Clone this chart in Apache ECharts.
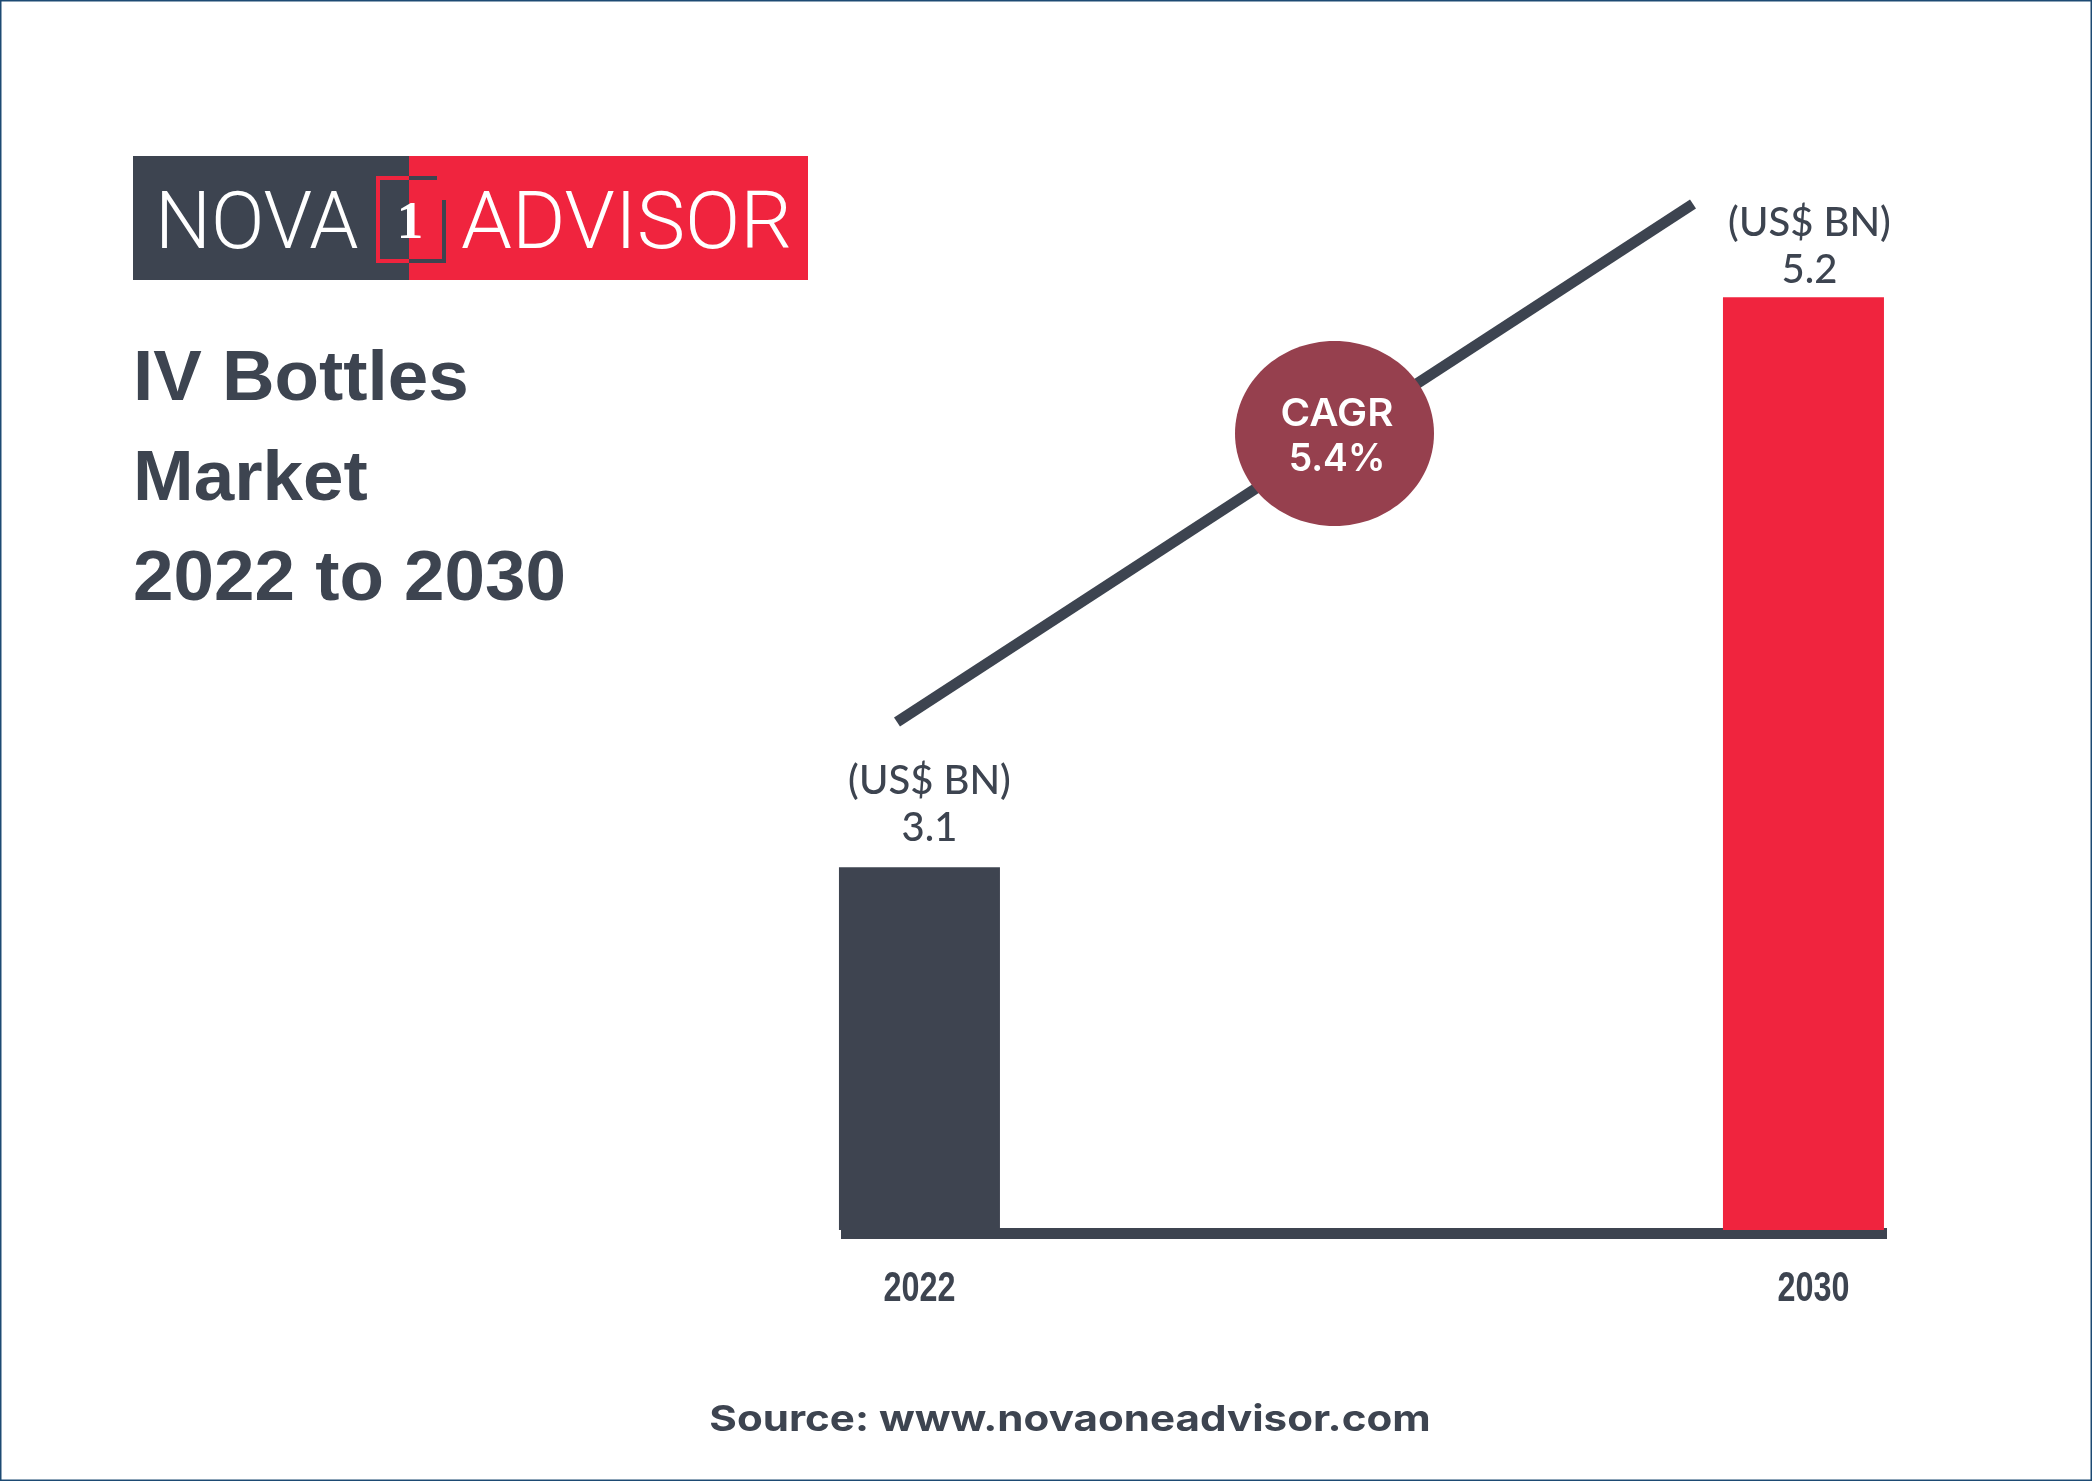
<!DOCTYPE html>
<html>
<head>
<meta charset="utf-8">
<style>html,body{margin:0;padding:0;background:#fff}#c{width:2092px;height:1481px}</style>
<script src="https://cdn.jsdelivr.net/npm/echarts@6/dist/echarts.min.js"></script>
</head>
<body>
<div id="c"></div>
<script>
const years = [2022, 2030];
const values = [3.1, 5.2];
const unitLabel = '(US$ BN)';
const barColors = ['#3e4450', '#f0243e'];
const cagrLines = ['CAGR', '5.4%'];
const titleLines = ['IV Bottles', 'Market', '2022 to 2030'];
const sourceText = 'Source: www.novaoneadvisor.com';

const DARK = '#3d4450', RED = '#f0243e', WINE = '#96404e', BORDER = '#1d4a73';
const chart = echarts.init(document.getElementById('c'), null, {renderer: 'canvas', width: 2092, height: 1481});

const labelOffsets = [[10, 0], [6, 12]];
const mid = (text, font, x, y, scaleX, fill, align) => ({
  type: 'text', z: 6, x, y, scaleX: scaleX || 1,
  style: {text, font, fill: fill || '#fff', align: align || 'center', verticalAlign: 'middle'}
});
const option = {
  backgroundColor: '#ffffff',
  animation: false,
  title: {
    text: titleLines.join('\n'),
    left: 133, top: 331, padding: 0,
    textStyle: {fontFamily: 'Liberation Sans', fontWeight: 'bold', fontSize: 70, lineHeight: 100, color: DARK}
  },
  grid: {left: 841, right: 2092 - 1887, top: 200, bottom: 251, containLabel: false},
  xAxis: {
    type: 'value', min: 2021.29, max: 2030.756, offset: 3.5,
    splitLine: {show: false}, axisTick: {show: false},
    axisLine: {show: true, onZero: false, lineStyle: {color: DARK, width: 11, cap: 'butt'}},
    axisLabel: {
      customValues: [years[0], years[1] + 0.09],
      formatter: v => String(Math.floor(v)),
      margin: 35, hideOverlap: false, showMinLabel: true, showMaxLabel: true,
      fontFamily: 'Liberation Sans', fontWeight: 'bold', fontSize: 42, color: DARK
    }
  },
  yAxis: {type: 'value', min: 1.763, max: 5.558, show: false},
  series: [{
    type: 'bar',
    barWidth: 161,
    data: years.map((y, i) => ({
      value: [y, values[i]],
      itemStyle: {color: barColors[i]},
      label: {offset: labelOffsets[i]}
    })),
    label: {
      show: true, position: 'top', distance: 16,
      formatter: p => unitLabel + '\n' + p.value[1].toFixed(1),
      fontFamily: 'Lato', fontWeight: 500, fontSize: 40, lineHeight: 47, color: DARK, align: 'center'
    }
  }],
  graphic: [
    {type: 'rect', z: 100, shape: {x: 0.5, y: 0.5, width: 2091, height: 1480}, style: {fill: 'none', stroke: BORDER, lineWidth: 2}},
    {type: 'rect', shape: {x: 133, y: 156, width: 276, height: 124}, style: {fill: DARK}},
    {type: 'rect', shape: {x: 409, y: 156, width: 399, height: 124}, style: {fill: RED}},
    {type: 'polyline', z: 5, shape: {points: [[409, 178], [378, 178], [378, 261], [409, 261]]}, style: {fill: 'none', stroke: RED, lineWidth: 4}},
    {type: 'polyline', z: 5, shape: {points: [[409, 178], [437, 178]]}, style: {fill: 'none', stroke: DARK, lineWidth: 4}},
    {type: 'polyline', z: 5, shape: {points: [[444, 200], [444, 261], [409, 261]]}, style: {fill: 'none', stroke: DARK, lineWidth: 4}},
    mid('NOVA', '300 80px Roboto', 155, 228, 0.985, '#fff', 'left'),
    mid('ADVISOR', '300 80px Roboto', 461, 228, 1.02, '#fff', 'left'),
    mid('1', 'bold 53px "Liberation Serif"', 410, 224),
    {type: 'line', z: 3, shape: {x1: 897, y1: 722, x2: 1693, y2: 204}, style: {stroke: DARK, lineWidth: 11}},
    {type: 'ellipse', z: 4, shape: {cx: 1334.5, cy: 433.5, rx: 99.5, ry: 92.5}, style: {fill: WINE}},
    mid(cagrLines[0], '600 38px Inter', 1337, 415, 1.06),
    mid(cagrLines[1], '600 38px Inter', 1337, 460, 0.98),
    mid(sourceText, 'bold 36px Inter', 1070, 1420, 1.17, DARK)
  ]
};
chart.setOption(option);

// The reference's tick labels are condensed and its title is tracked out; no such faces are installed.
const stretch = {'2022': 0.77, '2030': 0.77};
stretch[titleLines.join('\n')] = 1.04;
(function walk(els) {
  els.forEach(el => {
    const t = el.style && el.style.text;
    if (t != null && stretch[t]) { el.scaleX = stretch[t]; el.dirty(); return; }
    if (el.childrenRef && el.childrenRef()) walk(el.childrenRef());
  });
})(chart.getZr().storage.getRoots());
chart.getZr().refreshImmediately();
</script>
</body>
</html>
